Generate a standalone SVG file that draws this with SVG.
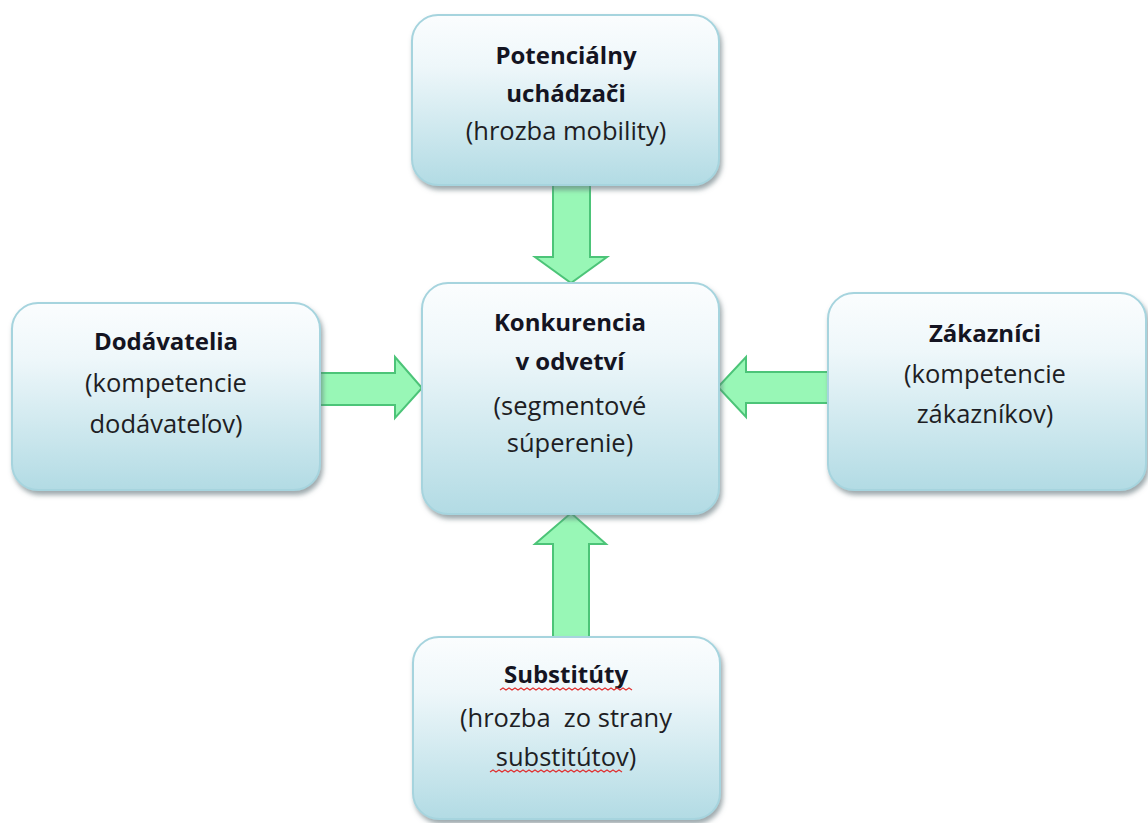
<svg xmlns="http://www.w3.org/2000/svg" width="1148" height="823" viewBox="0 0 1148 823">
<defs>
<linearGradient id="boxGrad" x1="0" y1="0" x2="0" y2="1">
<stop offset="0" stop-color="#fbfdfe"/>
<stop offset="0.3" stop-color="#eef7fa"/>
<stop offset="1" stop-color="#b2dbe4"/>
</linearGradient>
<filter id="shadow" x="-10%" y="-10%" width="125%" height="130%">
<feDropShadow dx="2" dy="4" stdDeviation="2.5" flood-color="#5a6e74" flood-opacity="0.6"/>
</filter>
</defs>
<style>
.box{fill:url(#boxGrad);stroke:#a6d4de;stroke-width:2;filter:url(#shadow)}
.arrow{fill:#98f7b6;stroke:#4cc478;stroke-width:2;stroke-linejoin:miter}
.b{font-family:"Open Sans","Liberation Sans",sans-serif;font-weight:bold;font-size:24px;fill:#141422;text-anchor:middle}
.r{font-family:"Open Sans","Liberation Sans",sans-serif;font-size:25.5px;fill:#1e1e24;text-anchor:middle;white-space:pre}
.sq{fill:none;stroke:#e03030;stroke-width:1.2}
</style>
<rect width="1148" height="823" fill="#ffffff"/>
<g id="connectors">
<path class="arrow" d="M553,185 L590,185 L590,257 L607,257 L571,283 L535,257 L553,257 Z"/>
<path class="arrow" d="M553,637 L589,637 L589,544 L606,544 L571,513 L535,544 L553,544 Z"/>
<path class="arrow" d="M320,373 L395,373 L395,357 L422,388 L395,418 L395,405 L320,405 Z"/>
<path class="arrow" d="M828,372 L746,372 L746,357 L718,387 L746,417 L746,403 L828,403 Z"/>
</g>
<g id="node-top">
<rect class="box" x="412" y="15" width="307" height="170" rx="26"/>
<text class="b" x="566" y="64">Potenciálny</text>
<text class="b" x="566" y="102">uchádzači</text>
<text class="r" x="566" y="140">(hrozba mobility)</text>
</g>
<g id="node-center">
<rect class="box" x="422" y="283" width="297" height="231" rx="26"/>
<text class="b" x="570" y="331">Konkurencia</text>
<text class="b" x="570" y="370">v odvetví</text>
<text class="r" x="570" y="415">(segmentové</text>
<text class="r" x="570" y="452">súperenie)</text>
</g>
<g id="node-left">
<rect class="box" x="12" y="303" width="308" height="187" rx="26"/>
<text class="b" x="166" y="350">Dodávatelia</text>
<text class="r" x="166" y="392">(kompetencie</text>
<text class="r" x="166" y="433">dodávateľov)</text>
</g>
<g id="node-right">
<rect class="box" x="828" y="293" width="318" height="197" rx="26"/>
<text class="b" x="985" y="342">Zákazníci</text>
<text class="r" x="985" y="383">(kompetencie</text>
<text class="r" x="985" y="423">zákazníkov)</text>
</g>
<g id="node-bottom">
<rect class="box" x="413" y="637" width="307" height="182" rx="26"/>
<text class="b" x="566" y="683">Substitúty</text>
<text class="r" x="566" y="727" xml:space="preserve">(hrozba  zo strany</text>
<text class="r" x="566" y="766">substitútov)</text>
<path class="sq" d="M500,690 l3,-2 l3,2 l3,-2 l3,2 l3,-2 l3,2 l3,-2 l3,2 l3,-2 l3,2 l3,-2 l3,2 l3,-2 l3,2 l3,-2 l3,2 l3,-2 l3,2 l3,-2 l3,2 l3,-2 l3,2 l3,-2 l3,2 l3,-2 l3,2 l3,-2 l3,2 l3,-2 l3,2 l3,-2 l3,2 l3,-2 l3,2 l3,-2 l3,2 l3,-2 l3,2 l3,-2 l3,2 l3,-2 l3,2 l3,-2 l3,2"/>
<path class="sq" d="M490,772 l3,-2 l3,2 l3,-2 l3,2 l3,-2 l3,2 l3,-2 l3,2 l3,-2 l3,2 l3,-2 l3,2 l3,-2 l3,2 l3,-2 l3,2 l3,-2 l3,2 l3,-2 l3,2 l3,-2 l3,2 l3,-2 l3,2 l3,-2 l3,2 l3,-2 l3,2 l3,-2 l3,2 l3,-2 l3,2 l3,-2 l3,2 l3,-2 l3,2 l3,-2 l3,2 l3,-2 l3,2 l3,-2 l3,2 l3,-2 l3,2"/>
</g>
</svg>
